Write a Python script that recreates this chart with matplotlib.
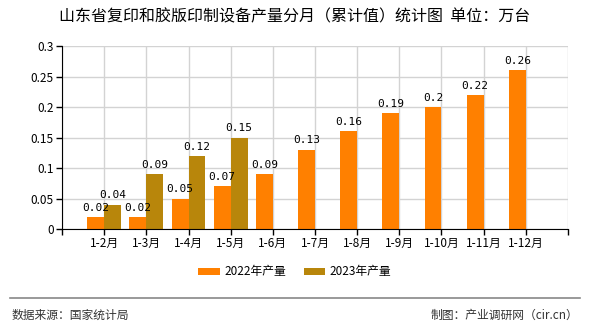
import numpy as np
import matplotlib.pyplot as plt
from matplotlib.lines import Line2D

plt.rcParams['font.family'] = ['Noto Sans CJK SC', 'DejaVu Sans']

months = ['1-2月', '1-3月', '1-4月', '1-5月', '1-6月', '1-7月',
          '1-8月', '1-9月', '1-10月', '1-11月', '1-12月']
v2022 = [0.02, 0.02, 0.05, 0.07, 0.09, 0.13, 0.16, 0.19, 0.2, 0.22, 0.26]
v2023 = [0.04, 0.09, 0.12, 0.15]

c22 = '#FF8000'
c23 = '#B8860B'
w = 0.4

fig = plt.figure(figsize=(5.9, 3.3), dpi=100)
ax = fig.add_axes([0.1051, 0.306, 0.8576, 0.5546])

x = np.arange(len(months))
x23 = np.arange(len(v2023))
ax.bar(x - w / 2, v2022, w, color=c22, label='2022年产量', zorder=2)
ax.bar(x23 + w / 2, v2023, w, color=c23, label='2023年产量', zorder=2)

# подписи значений
for xi, v in zip(x, v2022):
    ax.text(xi - w / 2, v + 0.007, f'{v:g}', ha='center', va='bottom',
            fontsize=8, family='DejaVu Sans Mono')
for xi, v in zip(x23, v2023):
    ax.text(xi + w / 2, v + 0.007, f'{v:g}', ha='center', va='bottom',
            fontsize=8, family='DejaVu Sans Mono')

ax.set_xlim(-1, len(months))
ax.set_ylim(0, 0.3)
ticks = np.arange(-1, len(months) + 1)
ax.set_xticks(ticks)
ax.set_xticklabels([''] + months + [''], fontsize=8.5)
yt = [0, 0.05, 0.1, 0.15, 0.2, 0.25, 0.3]
ax.set_yticks(yt)
ax.set_yticklabels(['0', '0.05', '0.1', '0.15', '0.2', '0.25', '0.3'], fontsize=8.5)
ax.tick_params(axis='both', length=4, width=1, color='black', pad=2)
ax.grid(True, color='#d3d3d3', linewidth=1, zorder=0)
ax.set_axisbelow(True)
for s in ['top', 'right']:
    ax.spines[s].set_visible(False)

fig.text(0.5, 0.948, '山东省复印和胶版印制设备产量分月（累计值）统计图  单位：万台',
         ha='center', va='center', fontsize=11.5)

fig.legend(loc='center', bbox_to_anchor=(0.5, 0.176), ncol=2, frameon=False,
           fontsize=8.5, handlelength=1.8, handleheight=0.6, columnspacing=1.5,
           handletextpad=0.4)

fig.add_artist(Line2D([0.017, 0.983], [0.097, 0.097], color='#888888',
                      linewidth=1.2, transform=fig.transFigure))
fig.text(0.02, 0.045, '数据来源：国家统计局', ha='left', va='center',
         fontsize=8.5, color='#333333')
fig.text(0.98, 0.045, '制图：产业调研网（cir.cn）', ha='right', va='center',
         fontsize=8.5, color='#333333')

fig.savefig('out.png', dpi=100)
